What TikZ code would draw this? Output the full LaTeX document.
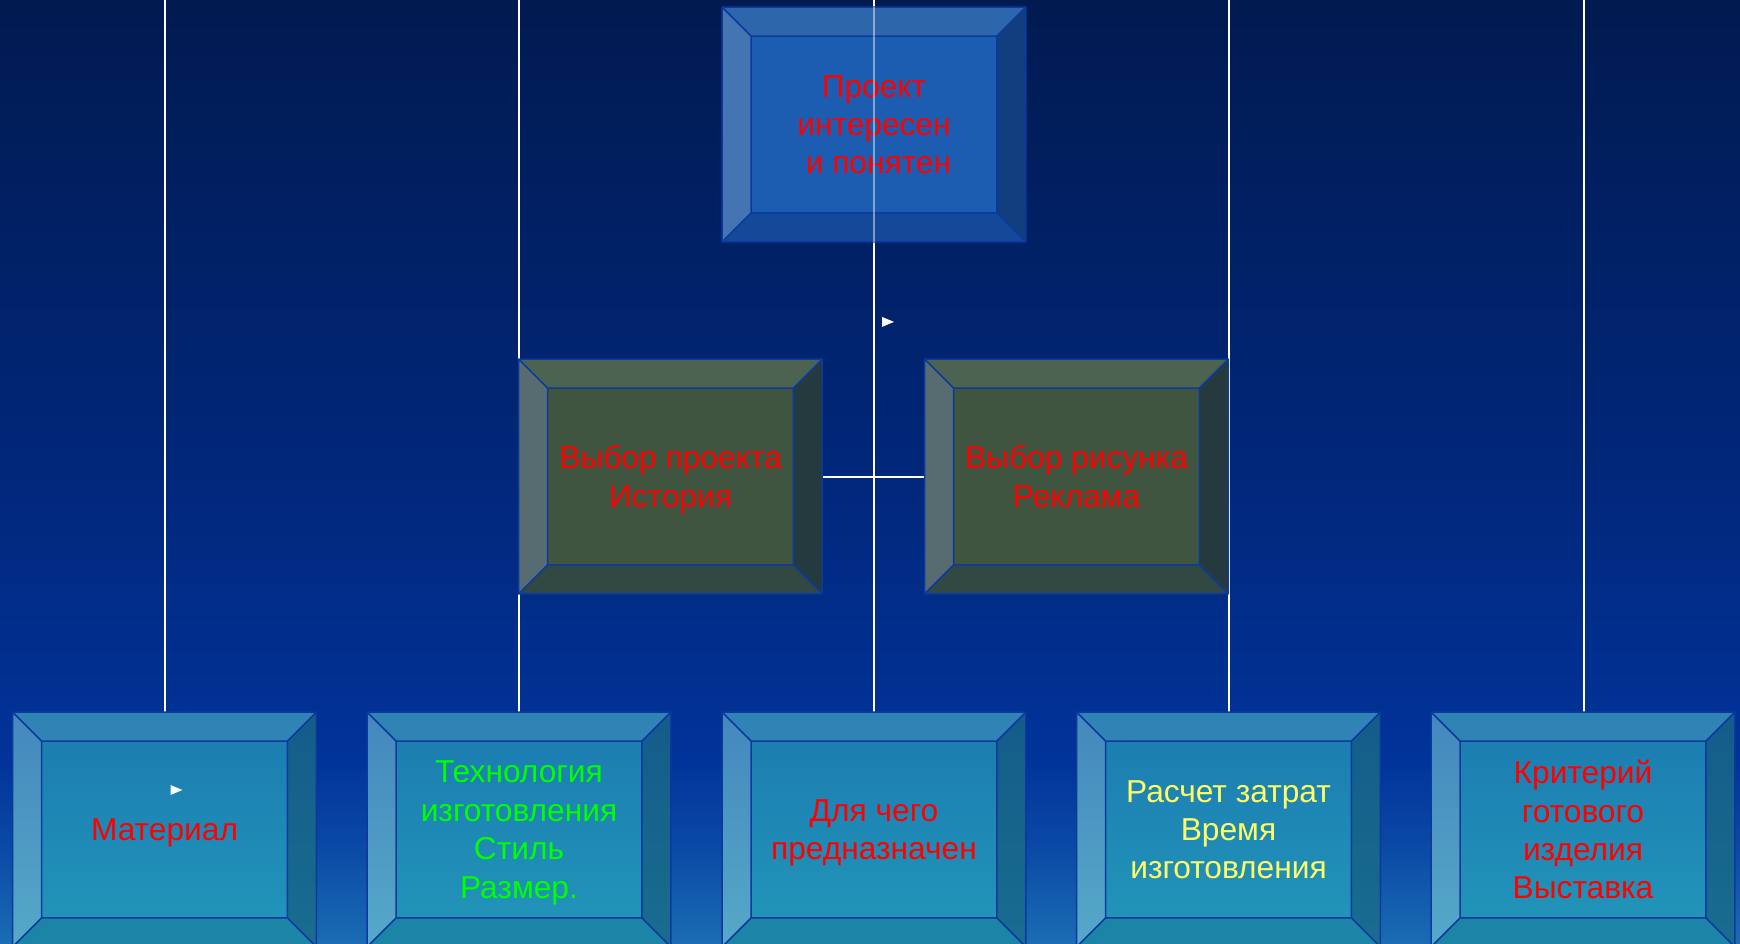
\documentclass[tikz,border=0pt]{standalone}
\usepackage{fontspec}
\setmainfont{Liberation Sans}
\usetikzlibrary{calc}
\pgfdeclarelayer{bg}
\pgfsetlayers{bg,main}
\definecolor{bgA}{HTML}{011A50}
\definecolor{bgB}{HTML}{01277A}
\definecolor{bgC}{HTML}{01339A}
\definecolor{bgD}{HTML}{0B4AA6}
\definecolor{bgE}{HTML}{1A6CB4}
\definecolor{edgeC}{HTML}{0A3A9E}
% top box
\definecolor{tFace}{HTML}{1C5DB1}
\definecolor{tTop}{HTML}{2E66AB}
\definecolor{tLeft}{HTML}{4574B2}
\definecolor{tRight}{HTML}{103E7F}
\definecolor{tBot}{HTML}{14499A}
% middle boxes
\definecolor{mFace}{HTML}{3F5540}
\definecolor{mTop}{HTML}{4D6351}
\definecolor{mLeft}{HTML}{576C70}
\definecolor{mRight}{HTML}{253A3E}
\definecolor{mBot}{HTML}{324842}
% bottom boxes
\definecolor{bFaceT}{HTML}{1B7AB0}
\definecolor{bFaceB}{HTML}{2297BA}
\definecolor{bTop}{HTML}{2F83B5}
\definecolor{bLeftT}{HTML}{4487BD}
\definecolor{bLeftB}{HTML}{55A9C9}
\definecolor{bRightT}{HTML}{145C8A}
\definecolor{bRightB}{HTML}{196D8F}
\definecolor{bBot}{HTML}{1C85A7}
% text
\definecolor{txtRed}{HTML}{FF0000}
\definecolor{txtGreen}{HTML}{00FF00}
\definecolor{txtYellow}{HTML}{FFFF66}

\tikzset{
  box/.style={minimum width=151.5pt, minimum height=117pt, inner sep=0pt,
    text depth=0pt, align=center, font=\fontsize{15.85pt}{19.2pt}\selectfont},
  topbox/.style={box, fill=tFace, text depth=-2.2pt},
  midbox/.style={box, fill=mFace},
  botbox/.style={box, top color=bFaceT, bottom color=bFaceB},
  edge/.style={draw=edgeC, line width=0.75pt, line join=round},
  conn/.style={draw=white, line width=1pt},
  bullet/.style={fill=white},
}

% #1 node name, #2 top bevel, #3 left bevel, #4 right bevel, #5 bottom bevel
\newcommand\bevelbox[5]{%
  \coordinate (#1-a) at (#1.north west);
  \coordinate (#1-b) at (#1.north east);
  \coordinate (#1-c) at (#1.south east);
  \coordinate (#1-d) at (#1.south west);
  \coordinate (#1-ia) at ($(#1-a)+(29,29)$);
  \coordinate (#1-ib) at ($(#1-b)+(-29,29)$);
  \coordinate (#1-ic) at ($(#1-c)+(-29,-29)$);
  \coordinate (#1-id) at ($(#1-d)+(29,-29)$);
  \path[#2] (#1-a) -- (#1-b) -- (#1-ib) -- (#1-ia) -- cycle;
  \path[#3] (#1-a) -- (#1-ia) -- (#1-id) -- (#1-d) -- cycle;
  \path[#4] (#1-b) -- (#1-c) -- (#1-ic) -- (#1-ib) -- cycle;
  \path[#5] (#1-d) -- (#1-id) -- (#1-ic) -- (#1-c) -- cycle;
  \draw[edge] (#1-a) rectangle (#1-c) (#1-ia) rectangle (#1-ic)
    (#1-a) -- (#1-ia) (#1-b) -- (#1-ib) (#1-c) -- (#1-ic) (#1-d) -- (#1-id);
}

\begin{document}
\begin{tikzpicture}[x=0.5pt, y=-0.5pt]
\path[use as bounding box] (0,0) rectangle (1740,943);
\clip (0,0) rectangle (1740,943);

% background
\begin{pgfonlayer}{bg}
\shade[top color=bgA, bottom color=bgB] (0,0) rectangle (1740,470.5);
\shade[top color=bgB, bottom color=bgC] (0,470) rectangle (1740,760.5);
\shade[top color=bgC, bottom color=bgD] (0,760) rectangle (1740,850.5);
\shade[top color=bgD, bottom color=bgE] (0,850) rectangle (1740,943);
\end{pgfonlayer}

% boxes
\node[topbox, text=txtRed] (top) at (874,124.5) {Проект\\интересен\\\hspace*{0.278em}и понятен};
\bevelbox{top}{fill=tTop}{fill=tLeft}{fill=tRight}{fill=tBot}
\node[midbox, text=txtRed] (m1) at (670.5,476.5) {Выбор проекта\\История};
\bevelbox{m1}{fill=mTop}{fill=mLeft}{fill=mRight}{fill=mBot}
\node[midbox, text=txtRed] (m2) at (1076.5,476.5) {Выбор рисунка\\Реклама};
\bevelbox{m2}{fill=mTop}{fill=mLeft}{fill=mRight}{fill=mBot}
\node[botbox, text=txtRed] (b1) at (164.5,829.5) {Материал};
\node[botbox, text=txtGreen] (b2) at (519,829.5) {Технология\\изготовления\\Стиль\\Размер.};
\node[botbox, text=txtRed] (b3) at (874,829.5) {Для чего\\предназначен};
\node[botbox, text=txtYellow] (b4) at (1228.5,829.5) {Расчет затрат\\Время\\изготовления};
\node[botbox, text=txtRed] (b5) at (1583,829.5) {Критерий\\готового\\изделия\\Выставка};
\foreach \b in {b1,b2,b3,b4,b5}{
  \bevelbox{\b}{fill=bTop}{top color=bLeftT, bottom color=bLeftB}{top color=bRightT, bottom color=bRightB}{fill=bBot}
}

% free ends of the vertical connectors at the top edge
\coordinate (t1) at (164.5,0);
\coordinate (t2) at (518.5,0);
\coordinate (t3) at (873.5,0);
\coordinate (t4) at (1228.5,0);
\coordinate (t5) at (1583.5,0);

% connectors, behind the boxes
\begin{pgfonlayer}{bg}
\draw[conn] (t1) -- (b1.north -| t1);
\draw[conn] (t2) -- (b2.north -| t2);
\draw[conn] (t3) -- (b3.north -| t3);
\draw[conn] (t4) -- (b4.north -| t4);
\draw[conn] (t5) -- (b5.north -| t5);
\draw[conn] (m1.east) -- (m2.west);
\end{pgfonlayer}

% connector seen through the translucent top box
\draw[conn, opacity=0.45] (top.north -| t3) -- (top.south -| t3);

% small bullets
\fill[bullet] ($(top.south)+(8,75)$) -- ++(12,5) -- ++(-12,5) -- cycle;
\fill[bullet] ($(b1.center)+(6,-44.5)$) -- ++(12,5) -- ++(-12,5) -- cycle;
\end{tikzpicture}
\end{document}
